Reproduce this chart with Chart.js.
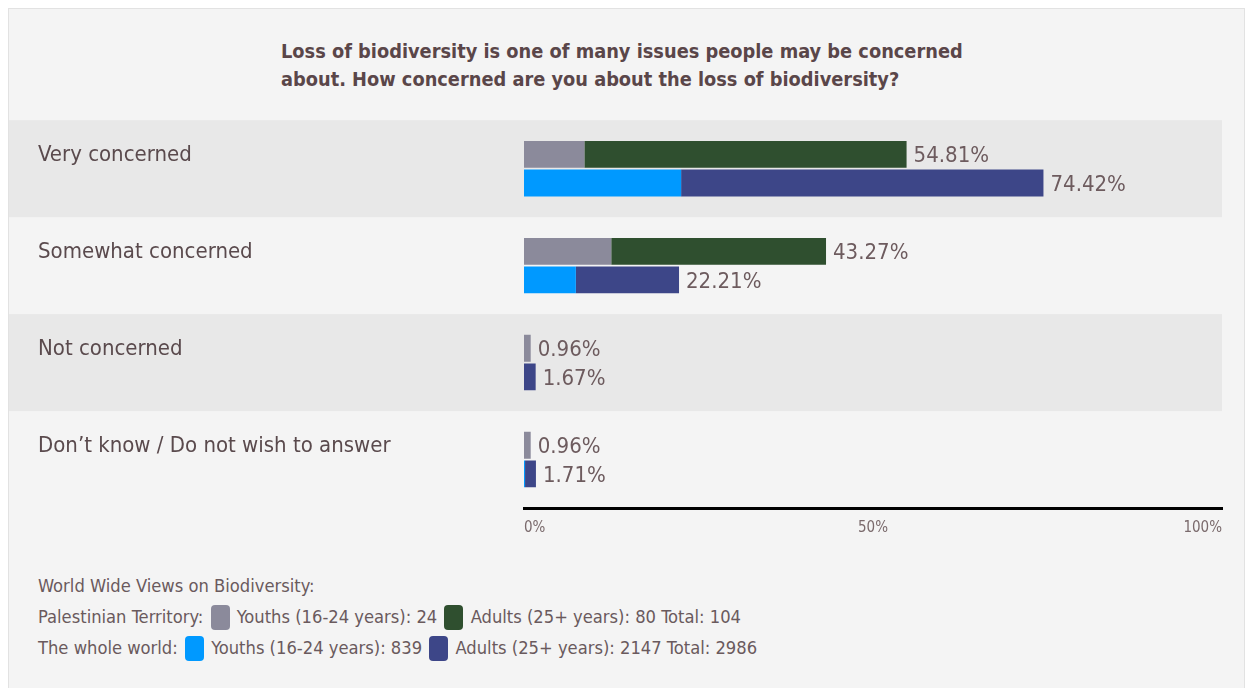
<!DOCTYPE html>
<html>
<head>
<meta charset="utf-8">
<script src="https://cdn.jsdelivr.net/npm/chart.js@4.4.1/dist/chart.umd.min.js"></script>
<style>
  html, body { margin: 0; padding: 0; background: #fff; }
  body { width: 1253px; height: 688px; position: relative; overflow: hidden;
         font-family: "DejaVu Sans Condensed", "Liberation Sans Narrow", sans-serif; }
  .panel { position: absolute; left: 8px; top: 8px; width: 1237px; height: 700px;
           background: #f4f4f4; border: 1px solid #e2e2e2; box-sizing: border-box; }
  .title { position: absolute; left: 272px; top: 29px; color: #5a4649;
           font-weight: bold; font-size: 19.8px; line-height: 28px; }
  .chart-wrap { position: absolute; left: 0; top: 95px; width: 1236px; height: 446px; }
  .legend { position: absolute; left: 29px; top: 561px; color: #6a5a5d;
            font-size: 18.2px; line-height: 31px; }
  .sw { display: inline-block; width: 19px; height: 25px; border-radius: 4px;
        vertical-align: -7px; margin: 0 2px; }
</style>
</head>
<body>
<div class="panel">
  <div class="title">Loss of biodiversity is one of many issues people may be concerned<br>about. How concerned are you about the loss of biodiversity?</div>
  <div class="chart-wrap"><canvas id="bioChart"></canvas></div>
  <div class="legend" id="legend"></div>
</div>
<script>
// Answer categories
const categories = [
  'Very concerned',
  'Somewhat concerned',
  'Not concerned',
  'Don\u2019t know / Do not wish to answer'
];

// Share of all respondents (%), split by age group
const ptYouths    = [8.65, 12.50, 0.96, 0.96];
const ptAdults    = [46.16, 30.77, 0, 0];
const worldYouths = [22.51, 7.43, 0, 0.15];
const worldAdults = [51.91, 14.78, 1.67, 1.56];

// Respondent counts: youths, adults, total
const ptCounts    = [24, 80, 104];
const worldCounts = [839, 2147, 2986];

const xTicks = [0, 50, 100];

const COLORS = {
  ptYouth: '#8b8a9b',
  ptAdult: '#2f4f2f',
  worldYouth: '#0099ff',
  worldAdult: '#3d4688'
};

const FONT = '"DejaVu Sans Condensed", "Liberation Sans Narrow", sans-serif';

// alternating grey row bands, painted before the axes so labels stay on top
const rowBands = {
  id: 'rowBands',
  beforeDraw(chart) {
    const { ctx, chartArea, scales: { y } } = chart;
    const half = (y.getPixelForValue(1) - y.getPixelForValue(0)) / 2;
    ctx.save();
    ctx.fillStyle = '#e8e8e8';
    categories.forEach((c, i) => {
      if (i % 2 !== 0) return;
      const yc = y.getPixelForValue(i);
      ctx.fillRect(0, yc - half, chartArea.right, half * 2);
    });
    ctx.restore();
  }
};

// total % printed at the end of each stacked bar
const totalLabels = {
  id: 'totalLabels',
  afterDatasetsDraw(chart) {
    const { ctx } = chart;
    ctx.save();
    ctx.font = '22px ' + FONT;
    ctx.fillStyle = '#6d5b5e';
    ctx.textAlign = 'left';
    ctx.textBaseline = 'middle';
    [[0, 1], [2, 3]].forEach(([a, b]) => {
      const lastMeta = chart.getDatasetMeta(b);
      categories.forEach((c, i) => {
        const total = chart.data.datasets[a].data[i] + chart.data.datasets[b].data[i];
        const el = lastMeta.data[i];
        ctx.fillText(total.toFixed(2) + '%', el.x + 7, el.y + 2);
      });
    });
    ctx.restore();
  }
};

new Chart(document.getElementById('bioChart'), {
  type: 'bar',
  data: {
    labels: categories,
    datasets: [
      { label: 'Palestinian Territory youths', data: ptYouths, stack: 'pt', backgroundColor: COLORS.ptYouth },
      { label: 'Palestinian Territory adults', data: ptAdults, stack: 'pt', backgroundColor: COLORS.ptAdult },
      { label: 'World youths', data: worldYouths, stack: 'world', backgroundColor: COLORS.worldYouth },
      { label: 'World adults', data: worldAdults, stack: 'world', backgroundColor: COLORS.worldAdult }
    ]
  },
  options: {
    indexAxis: 'y',
    responsive: true,
    maintainAspectRatio: false,
    animation: false,
    layout: { padding: { left: 29, right: 23, top: 0, bottom: 0 } },
    datasets: { bar: { categoryPercentage: 0.59, barPercentage: 0.94 } },
    plugins: { legend: { display: false }, tooltip: { enabled: false } },
    scales: {
      x: {
        stacked: true,
        min: 0, max: 100,
        afterBuildTicks(scale) { scale.ticks = xTicks.map(v => ({ value: v })); },
        afterFit(scale) { scale.height = 42; },
        grid: { display: false, drawTicks: false },
        border: { display: true, color: '#000', width: 3 },
        ticks: {
          align: 'inner',
          padding: 11,
          color: '#7a6a6c',
          font: { family: FONT, size: 15 },
          callback: v => v + '%'
        }
      },
      y: {
        stacked: true,
        afterFit(scale) { scale.width = 486; },
        grid: { display: false, drawTicks: false },
        border: { display: false },
        ticks: {
          autoSkip: false,
          crossAlign: 'far',
          labelOffset: -13,
          color: '#5a4a4d',
          font: { family: FONT, size: 22 }
        }
      }
    }
  },
  plugins: [rowBands, totalLabels]
});

// legend lines under the chart
const sw = c => '<span class="sw" style="background:' + c + '"></span>';
document.getElementById('legend').innerHTML =
  'World Wide Views on Biodiversity:<br>' +
  'Palestinian Territory: ' + sw(COLORS.ptYouth) + ' Youths (16-24 years): ' + ptCounts[0] + ' ' +
  sw(COLORS.ptAdult) + ' Adults (25+ years): ' + ptCounts[1] + ' Total: ' + ptCounts[2] + '<br>' +
  'The whole world: ' + sw(COLORS.worldYouth) + ' Youths (16-24 years): ' + worldCounts[0] + ' ' +
  sw(COLORS.worldAdult) + ' Adults (25+ years): ' + worldCounts[1] + ' Total: ' + worldCounts[2];
</script>
</body>
</html>
